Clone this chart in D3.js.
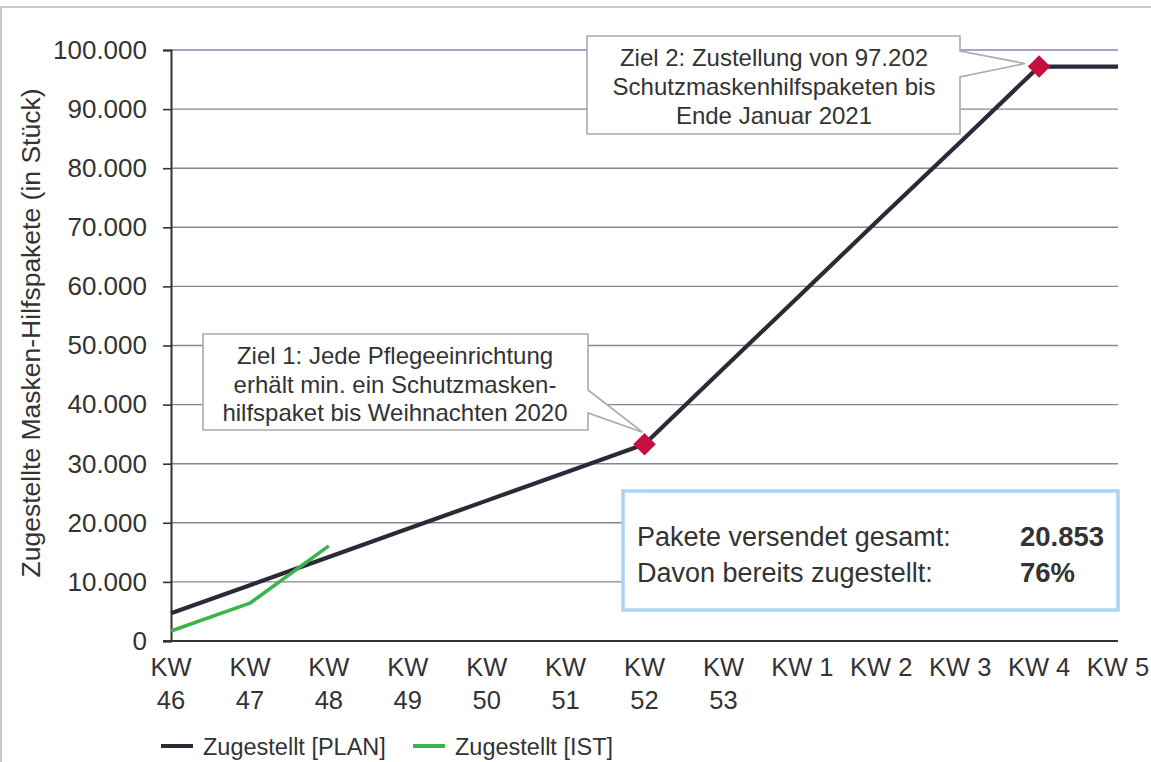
<!DOCTYPE html>
<html><head><meta charset="utf-8">
<script src="https://cdn.jsdelivr.net/npm/d3@7"></script>
<style>body{margin:0;background:#fff}svg{display:block}text{font-family:"Liberation Sans",Arial,sans-serif;fill:#333}</style>
</head><body>
<script>
const categories = ["KW 46","KW 47","KW 48","KW 49","KW 50","KW 51","KW 52","KW 53","KW 1","KW 2","KW 3","KW 4","KW 5"];
const planValues = [4700, 9450, 14200, 19000, 23750, 28500, 33300, 46100, 58900, 71700, 84400, 97202, 97202];
const istValues = [1700, 6400, 16100];
const milestoneIdx = [6, 11];
const yTicks = [0,10000,20000,30000,40000,50000,60000,70000,80000,90000,100000];
const legendLabels = ["Zugestellt [PLAN]", "Zugestellt [IST]"];
const callout1 = ["Ziel 1: Jede Pflegeeinrichtung","erhält min. ein Schutzmasken-","hilfspaket bis Weihnachten 2020"];
const callout2 = ["Ziel 2: Zustellung von 97.202","Schutzmaskenhilfspaketen bis","Ende Januar 2021"];
const infoLabels = ["Pakete versendet gesamt:","Davon bereits zugestellt:"];
const infoValues = ["20.853","76%"];
const yTitle = "Zugestellte Masken-Hilfspakete (in Stück)";

const W = 1151, H = 762;
const svg = d3.select("body").append("svg").attr("width", W).attr("height", H);
svg.append("rect").attr("width", W).attr("height", H).attr("fill", "#fff");
// outer frame
svg.append("path").attr("d", `M1,${H} V7 H${W}`).attr("fill","none").attr("stroke","#c9c9c9").attr("stroke-width",2);

const x = d3.scalePoint().domain(categories).range([171, 1118]);
const y = d3.scaleLinear().domain([0, 100000]).range([641, 50]);
const fmt = v => v === 0 ? "0" : d3.format(",")(v).replace(/,/g, ".");

// gridlines
svg.append("g").selectAll("line").data(yTicks.filter(d => d > 0)).join("line")
  .attr("x1", 171).attr("x2", 1118).attr("y1", d => y(d)).attr("y2", d => y(d))
  .attr("stroke", d => d === 100000 ? "#8e7dc4" : "#878787").attr("stroke-width", 1.4);

// y axis
const yAxis = svg.append("g").attr("transform", "translate(171,0)")
  .call(d3.axisLeft(y).tickValues(yTicks).tickFormat(fmt).tickSize(8).tickPadding(16));
yAxis.select(".domain").attr("stroke", "#333").attr("stroke-width", 2);
yAxis.selectAll(".tick line").attr("stroke", "#333").attr("stroke-width", 1.6);
yAxis.selectAll(".tick text").attr("font-size", 26).attr("fill", "#333").attr("font-family", "Liberation Sans, Arial, sans-serif");

// x axis line
svg.append("line").attr("x1", 163).attr("x2", 1118).attr("y1", y(0)).attr("y2", y(0))
  .attr("stroke", "#333").attr("stroke-width", 2);

// x labels
const xl = svg.append("g").selectAll("text").data(categories).join("text")
  .attr("x", d => x(d)).attr("text-anchor", "middle").attr("font-size", 25.5);
xl.each(function(d) {
  const n = +d.split(" ")[1];
  const t = d3.select(this);
  if (n >= 46) {
    t.append("tspan").attr("x", x(d)).attr("y", 676).text("KW");
    t.append("tspan").attr("x", x(d)).attr("y", 709).text(n);
  } else {
    t.attr("y", 676).text(d);
  }
});

// y title
svg.append("text").attr("transform", "translate(40,333) rotate(-90)")
  .attr("text-anchor", "middle").attr("font-size", 26.5).text(yTitle);

// lines
const line = d3.line().x((d, i) => x(categories[i])).y(d => y(d));
svg.append("path").datum(planValues).attr("d", line).attr("fill", "none")
  .attr("stroke", "#2b2a36").attr("stroke-width", 4.2).attr("stroke-linejoin", "round");
svg.append("path").datum(istValues).attr("d", line).attr("fill", "none")
  .attr("stroke", "#3bb54a").attr("stroke-width", 3.6).attr("stroke-linejoin", "round");

// callouts
function callout(box, tip, lines, cx, cy0, dy) {
  const [x0, y0, x1, y1, p0, p1] = box;
  svg.append("path").attr("d", `M${x0},${y0} H${x1} V${p0} L${tip[0]},${tip[1]} L${x1},${p1} V${y1} H${x0} Z`)
    .attr("fill", "#fff").attr("stroke", "#aaaaaa").attr("stroke-width", 1.6);
  svg.append("g").selectAll("text").data(lines).join("text")
    .attr("x", cx).attr("y", (d, i) => cy0 + i * dy).attr("text-anchor", "middle")
    .attr("font-size", 24).text(d => d);
}
callout([203, 334, 588, 430, 390, 413], [x(categories[6]) - 2, y(planValues[6]) - 12], callout1, 395, 364, 28.5);
callout([587, 36, 960, 134, 51, 77], [x(categories[11]) - 14, y(planValues[11]) - 3], callout2, 774, 66, 29);

// diamonds
svg.append("g").selectAll("path").data(milestoneIdx).join("path")
  .attr("transform", i => `translate(${x(categories[i])},${y(planValues[i])}) rotate(45)`)
  .attr("d", d3.symbol().type(d3.symbolSquare).size(256))
  .attr("fill", "#c8103e");

// info box
svg.append("rect").attr("x", 623).attr("y", 491).attr("width", 495).attr("height", 119)
  .attr("fill", "#fff").attr("stroke", "#a9d5f5").attr("stroke-width", 3.5);
svg.append("g").selectAll("text").data(infoLabels).join("text")
  .attr("x", 637).attr("y", (d, i) => 546 + i * 36).attr("font-size", 27).text(d => d);
svg.append("g").selectAll("text").data(infoValues).join("text")
  .attr("x", 1020).attr("y", (d, i) => 546 + i * 36).attr("font-size", 27.5).attr("font-weight", "bold").text(d => d);

// legend
const lg = svg.append("g").selectAll("g").data(legendLabels).join("g")
  .attr("transform", (d, i) => `translate(${i === 0 ? 161 : 413},746)`);
lg.append("line").attr("x1", 0).attr("x2", 32).attr("stroke", (d, i) => i === 0 ? "#2b2a36" : "#3bb54a").attr("stroke-width", 4);
lg.append("text").attr("x", 42).attr("y", 8.5).attr("font-size", 23.5).text(d => d);
</script>
</body></html>
